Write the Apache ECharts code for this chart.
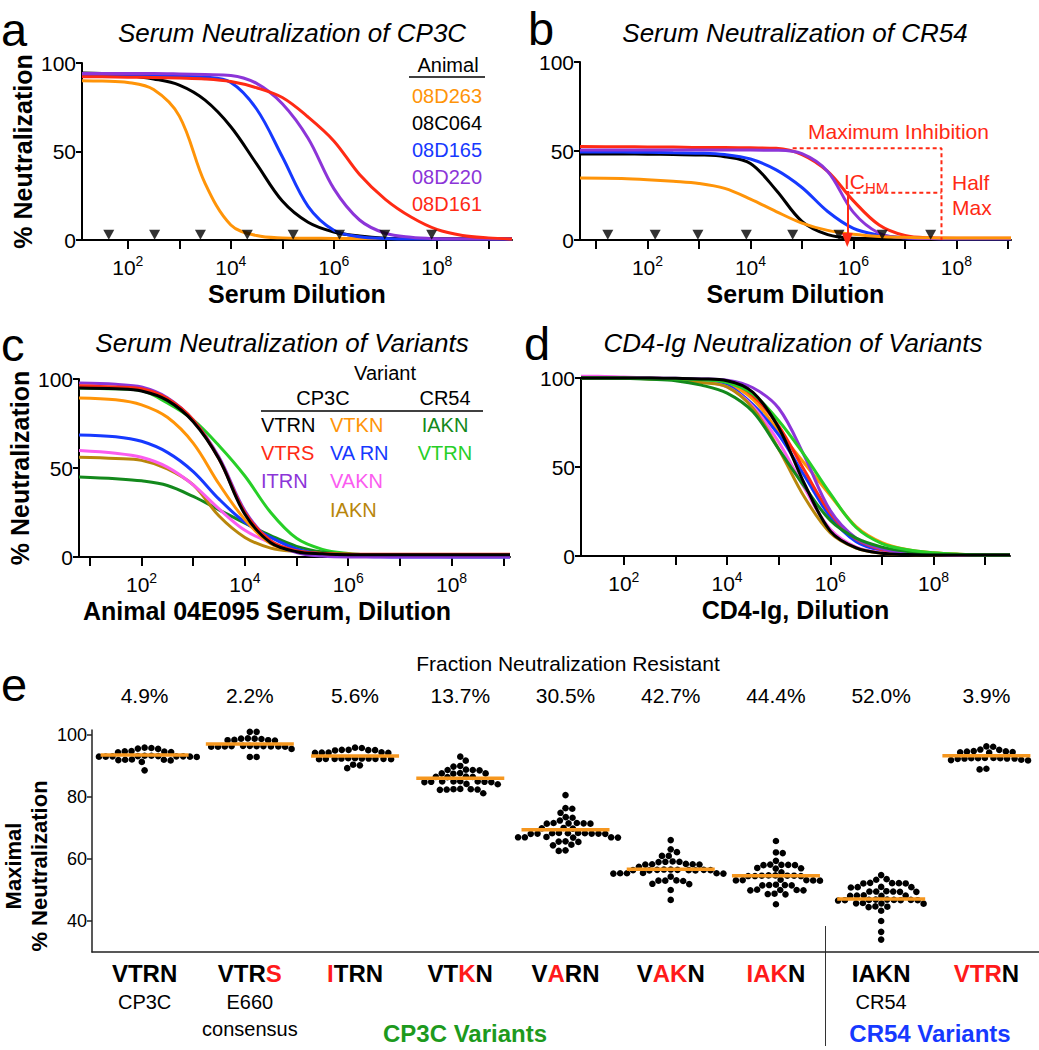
<!DOCTYPE html>
<html>
<head>
<meta charset="utf-8">
<script src="https://cdn.jsdelivr.net/npm/echarts@6/dist/echarts.min.js"></script>
<style>
  html, body { margin: 0; padding: 0; background: #fff; }
  #chart { width: 1039px; height: 1050px; }
</style>
</head>
<body>
<div id="chart"></div>
<script>
// ---- data (x values are log10 of the dilution) ----
const decadeTicks = [1, 2, 3, 4, 5, 6, 7, 8, 9];
const decadeLabels = [2, 4, 6, 8];

// panel a: Serum Neutralization of CP3C
const aAnimals = ['08D263', '08C064', '08D165', '08D220', '08D161'];
const aLogDil = [1.11, 1.5, 2, 2.5, 3, 3.5, 4, 4.5, 5, 5.5, 6, 6.5, 7, 7.5, 8, 8.5, 9, 9.46];
const a08D263 = [90, 89.8, 89, 85, 70, 32, 8.5, 2.5, 1.2, 1, 0.9, 0.8, 0.8, 0.8, 0.8, 0.8, 0.8, 0.8];
const a08C064 = [94.3, 94, 93, 91, 87.5, 79, 64, 43, 22, 10, 4.5, 2.2, 1, 0.7, 0.5, 0.5, 0.5, 0.5];
const a08D165 = [93.5, 93.5, 93.3, 93, 92.5, 92, 89, 74, 47, 19, 5.5, 1.8, 0.8, 0.5, 0.5, 0.5, 0.5, 0.5];
const a08D220 = [94, 94, 94, 94, 93.8, 93.5, 93, 88.5, 77, 57.5, 29, 11.3, 3.8, 1.5, 0.7, 0.5, 0.5, 0.5];
const a08D161 = [92.3, 92.2, 92, 91.8, 91.5, 91, 89.5, 86, 80.5, 69.5, 56, 37, 23, 13, 6, 2.6, 1.2, 0.5];
const aTriangles = [1.63, 2.52, 3.41, 4.32, 5.21, 6.11, 6.99, 7.9];

// panel b: Serum Neutralization of CR54
const bLogDil = [0.69, 1.5, 2, 2.5, 3, 3.5, 4, 4.5, 5, 5.5, 6, 6.5, 7, 7.5, 8, 8.5, 9.06];
const b08D263 = [34.8, 34.5, 33.9, 33, 31.8, 29, 23, 16, 9.5, 5.4, 3.2, 2, 1.5, 1.2, 1.1, 1.1, 1.1];
const b08C064 = [48.3, 48.3, 48.2, 48, 47.8, 46.8, 43, 28, 10.5, 3, 1, 0.8, 0.7, 0.7, 0.7, 0.7, 0.7];
const b08D165 = [49.5, 49.4, 49.3, 49, 48.8, 48, 45.5, 39.4, 29.5, 16, 6.5, 2.8, 1.2, 0.8, 0.7, 0.7, 0.7];
const b08D220 = [50.5, 50.5, 50.5, 50.5, 50.5, 50.5, 50.5, 50.4, 48.5, 38.5, 15.5, 3.8, 1.2, 0.8, 0.7, 0.7, 0.7];
const b08D161 = [52.5, 52.4, 52.3, 52.2, 52, 52, 51.8, 51.5, 48, 38.5, 22, 8.4, 2.5, 1.2, 1, 1, 1];
const bTriangles = [1.23, 2.15, 2.98, 3.92, 4.82, 5.72, 6.56, 7.5];
const bMaxInhib = 51.6, bHalfMax = 26.5, bICHM = 5.88, bMaxStart = 4.82, bHalfStart = 5.92, bBracketX = 7.71;

// panel c: Serum Neutralization of Variants (animal 04E095)
const cLogDil = [0.79, 1.5, 2, 2.5, 3, 3.5, 4, 4.5, 5, 5.5, 6, 6.5, 7, 7.5, 8, 8.5, 9.13];
const cCP3C_VTRN = [95, 94.5, 93.3, 88, 76, 55, 24, 8, 3, 1.8, 1.3, 1.3, 1.3, 1.3, 1.3, 1.3, 1.3];
const cCP3C_VTRS = [96.2, 95.5, 94.5, 89, 77, 55, 25, 9, 3.5, 2, 1.5, 1.5, 1.5, 1.5, 1.5, 1.5, 1.5];
const cCP3C_ITRN = [97.7, 97, 95.5, 89.5, 77, 56, 26, 9, 2.5, 0.5, 0, 0, 0, 0, 0, 0, 0];
const cCP3C_VTKN = [89.3, 88.3, 85.5, 78.5, 64, 41, 21, 7.5, 3, 1.8, 1.5, 1.3, 1.3, 1.3, 1.3, 1.3, 1.3];
const cCP3C_VARN = [68.6, 67.6, 65, 58.8, 48, 32.5, 19.5, 11, 4.5, 1.5, 0.5, 0.2, 0, 0, 0, 0, 0];
const cCP3C_VAKN = [59.8, 58.3, 56, 50.5, 40.5, 27, 15, 8, 3.6, 1.8, 1.2, 1, 1, 1, 1, 1, 1];
const cCP3C_IAKN = [56, 55.3, 54.3, 49.5, 40.5, 23, 11, 5, 3, 2, 1.5, 1.3, 1.3, 1.3, 1.3, 1.3, 1.3];
const cCR54_IAKN = [45, 44, 42.8, 40.2, 34, 26.5, 19, 12, 6, 2.8, 1.5, 1.2, 1, 1, 1, 1, 1];
const cCR54_VTRN = [95, 94.5, 93.5, 86.5, 77, 62.5, 45.5, 25, 10.5, 4.3, 2, 1, 0.5, 0.3, 0.2, 0.2, 0.2];

// panel d: CD4-Ig Neutralization of Variants
const dLogDil = [1.17, 1.5, 2, 2.5, 3, 3.5, 4, 4.5, 5, 5.5, 6, 6.5, 7, 7.5, 8, 8.5, 9, 9.48];
const dCP3C_VTRN = [100, 100, 100, 100, 99.8, 99.5, 98.5, 92, 72, 40.5, 14, 4.5, 1.5, 0.8, 0.5, 0.5, 0.5, 0.5];
const dCP3C_VTRS = [100, 100, 100, 99.8, 99.5, 99, 98, 90, 73, 48, 24, 9.5, 3.5, 1.5, 1, 0.6, 0.5, 0.5];
const dCP3C_ITRN = [100, 100, 100, 100, 99.8, 99.5, 98.8, 94.5, 83, 56, 25.5, 10, 4, 1.5, 0.8, 0.5, 0.5, 0.5];
const dCP3C_VTKN = [100, 100, 100, 99.8, 99.5, 98.8, 97, 88, 70, 52, 34, 16.5, 7.5, 3.5, 1.8, 1, 0.6, 0.5];
const dCP3C_VARN = [100, 100, 100, 99.8, 99.3, 98.5, 96, 85, 68, 45, 22, 8, 3, 1.5, 1, 0.6, 0.5, 0.5];
const dCP3C_VAKN = [101, 101, 100.5, 100, 99.5, 98, 95, 84, 64, 38, 15, 5, 1.8, 1, 0.8, 0.6, 0.5, 0.5];
const dCP3C_IAKN = [100, 100, 100, 99.5, 99, 97.5, 95, 83, 60, 33, 13, 4.5, 1.5, 0.8, 0.6, 0.5, 0.5, 0.5];
const dCR54_IAKN = [100, 100, 99.8, 99.3, 98.5, 96, 91.5, 81, 60, 39, 20, 10, 5, 2.5, 1.2, 0.8, 0.5, 0.5];
const dCR54_VTRN = [100, 100, 100, 99.8, 99.5, 99, 97.5, 91, 76, 56.5, 35, 16, 7, 3.5, 1.8, 1, 0.6, 0.5];

// panel e: maximal neutralization per variant
const eVariants = ['VTRN', 'VTRS', 'ITRN', 'VTKN', 'VARN', 'VAKN', 'IAKN', 'IAKN', 'VTRN'];
const eRedLetters = [[], [3], [0], [2], [1], [1, 2], [0, 1, 2], [], [0, 1, 2]];
const eSubLabels = ['CP3C', 'E660\nconsensus', '', '', '', '', '', 'CR54', ''];
const eResistant = ['4.9%', '2.2%', '5.6%', '13.7%', '30.5%', '42.7%', '44.4%', '52.0%', '3.9%'];
const eMedians = [93.5, 97.1, 93.2, 86.0, 69.4, 56.7, 54.6, 47.1, 93.3];
const eYTicks = [40, 60, 80, 100];
const eVTRN = [95.9, 95.8, 95.6, 95.5, 94.8, 94.7, 94.6, 94.5, 94.4, 93.3, 93.3, 93.2, 93.2, 93.1, 93.1, 93.1, 93.0, 93.0, 93.0, 92.9, 92.1, 92.0, 92.0, 91.9, 91.8, 91.3, 88.6];
const eVTRS = [101, 101, 98.9, 98.8, 98.8, 98.7, 98.4, 98.3, 98.3, 98.2, 96.5, 96.5, 96.4, 96.4, 96.4, 96.3, 96.3, 96.3, 96.2, 96.2, 96.2, 95.5, 92.9, 92.9];
const eITRN = [95.9, 95.8, 95.2, 95.2, 95.1, 95.1, 95.0, 94.4, 94.3, 94.3, 94.2, 94.2, 92.5, 92.5, 92.4, 92.4, 92.4, 92.3, 92.3, 92.3, 92.3, 92.2, 92.2, 90.4, 90.2, 89.3];
const eVTKN = [93.0, 91.7, 90.0, 89.8, 88.8, 88.7, 88.7, 88.6, 87.7, 87.6, 87.6, 87.5, 86.6, 86.5, 86.5, 86.4, 85.1, 85.0, 85.0, 85.0, 84.9, 84.9, 84.8, 84.8, 84.2, 84.1, 82.6, 82.5, 82.5, 82.4, 82.4, 82.3, 81.2];
const eVARN = [80.6, 76.4, 76.2, 74.9, 73.5, 73.3, 72.4, 71.6, 71.6, 71.5, 71.5, 71.4, 71.4, 70.0, 69.9, 69.8, 68.4, 68.4, 68.3, 68.3, 68.3, 68.2, 68.2, 68.2, 68.1, 68.1, 67.1, 67.0, 67.0, 67.0, 66.9, 66.9, 65.7, 65.6, 65.5, 64.6, 64.4, 62.8, 62.6];
const eVAKN = [66.1, 63.1, 62.2, 61.0, 61.0, 59.2, 59.1, 59.1, 59.0, 58.4, 58.3, 58.3, 58.2, 58.2, 57.5, 56.6, 56.6, 56.5, 56.5, 56.5, 56.4, 56.4, 56.4, 56.3, 56.3, 55.5, 55.4, 55.4, 55.4, 55.3, 55.3, 54.3, 53.1, 53.0, 53.0, 52.9, 52.0, 51.9, 50.0, 46.8];
const eIAKN = [65.8, 62.1, 61.9, 59.4, 58.2, 58.1, 58.1, 58.0, 58.0, 57.1, 57.0, 56.9, 55.7, 54.7, 54.7, 54.6, 54.6, 54.6, 54.5, 54.5, 54.5, 53.3, 53.2, 53.2, 53.1, 53.1, 53.0, 51.7, 51.6, 51.6, 51.5, 51.5, 50.1, 50.0, 50.0, 49.9, 49.9, 48.8, 48.7, 48.6, 45.4];
const eCR54_IAKN = [54.8, 53.5, 53.3, 52.3, 52.2, 52.2, 52.1, 52.1, 51.0, 50.9, 50.9, 50.8, 49.6, 49.5, 49.5, 49.5, 49.4, 49.4, 48.3, 48.2, 48.2, 48.1, 48.1, 46.9, 46.9, 46.8, 46.8, 46.8, 46.7, 46.7, 46.7, 46.6, 45.8, 45.7, 45.7, 45.6, 44.7, 44.6, 44.5, 43.3, 40.0, 36.5, 34.0];
const eCR54_VTRN = [96.3, 96.2, 95.3, 95.2, 94.8, 94.7, 94.6, 94.5, 94.4, 94.3, 92.6, 92.6, 92.5, 92.5, 92.5, 92.4, 92.4, 92.4, 92.3, 92.0, 91.9, 91.8, 89.1, 88.9];
const eColumns = [eVTRN, eVTRS, eITRN, eVTKN, eVARN, eVAKN, eIAKN, eCR54_IAKN, eCR54_VTRN];

// ---- styling ----
const FONT = '"Liberation Sans", Arial, Helvetica, sans-serif';
const C = {
  orange: '#ff9408', black: '#000000', blue: '#1639ff', purple: '#8c35d8', red: '#ff2a14',
  pink: '#fb5cf0', brown: '#b8860b', dkgreen: '#13891c', green: '#27cf27', median: '#f6971f'
};

const GA = { left: 82, top: 63, width: 430, height: 177 };
const GB = { left: 580, top: 62, width: 431, height: 178 };
const GC = { left: 79, top: 379, width: 431, height: 178 };
const GD = { left: 581, top: 378, width: 429, height: 178 };
const GE = { left: 92, top: 730, width: 947, height: 222 };
const E_YMIN = 30, E_YMAX = 101.6;

function pairs(xs, ys) { return xs.map((x, i) => [x, ys[i]]); }

function logAxis(gi, min, max, name, gap) {
  return {
    type: 'value', gridIndex: gi, min: min, max: max,
    axisLine: { show: true, onZero: false, lineStyle: { color: '#000', width: 2 } },
    axisTick: { show: true, length: 9, lineStyle: { color: '#000', width: 2 },
      customValues: decadeTicks.filter(t => t >= min && t <= max) },
    axisLabel: {
      customValues: decadeLabels, margin: 14,
      formatter: v => '{b|10}{s|' + v + '}',
      rich: {
        b: { fontSize: 21, fontFamily: FONT, color: '#000', lineHeight: 24, verticalAlign: 'bottom' },
        s: { fontSize: 14, fontFamily: FONT, color: '#000', lineHeight: 14, verticalAlign: 'top' }
      }
    },
    splitLine: { show: false },
    name: name, nameLocation: 'middle', nameGap: gap,
    nameTextStyle: { fontSize: 25, fontWeight: 'bold', fontFamily: FONT, color: '#000' }
  };
}

function pctAxis(gi, withName) {
  return {
    type: 'value', gridIndex: gi, min: 0, max: 100, interval: 50,
    axisLine: { show: true, onZero: false, lineStyle: { color: '#000', width: 2 } },
    axisTick: { show: true, length: 6, lineStyle: { color: '#000', width: 2 } },
    axisLabel: { fontSize: 21, fontFamily: FONT, color: '#000', margin: 6 },
    splitLine: { show: false },
    name: withName ? '% Neutralization' : '', nameLocation: 'middle', nameRotate: 90, nameGap: 47,
    nameTextStyle: { fontSize: 25, fontWeight: 'bold', fontFamily: FONT, color: '#000' }
  };
}

function curve(axis, xs, ys, color, name) {
  return {
    type: 'line', name: name, xAxisIndex: axis, yAxisIndex: axis,
    data: pairs(xs, ys), showSymbol: false, smooth: 0.35, clip: false,
    lineStyle: { color: color, width: 3 }, silent: true
  };
}

function triangles(axis, xs) {
  return {
    type: 'scatter', xAxisIndex: axis, yAxisIndex: axis, z: 5,
    data: xs.map(x => [x, 3]), symbol: 'triangle', symbolRotate: 180, symbolSize: [11, 10],
    itemStyle: { color: '#000' }, silent: true
  };
}

// simple beeswarm: horizontal offsets (px) so dots do not overlap
function swarm(vals, pxPerY, D) {
  const placed = [];
  let flip = 1;
  vals.slice().sort((a, b) => b - a).forEach(v => {
    const y = v * pxPerY;
    const cands = [0];
    placed.forEach(p => {
      const dy = Math.abs(p.y - y);
      if (dy < D) { const dx = Math.sqrt(D * D - dy * dy); cands.push(p.x + dx, p.x - dx); }
    });
    cands.sort((a, b) => (Math.abs(a) - Math.abs(b)) || (flip * (b - a)));
    const x = cands.find(c => placed.every(p => (p.x - c) * (p.x - c) + (p.y - y) * (p.y - y) >= D * D - 0.01));
    if (x !== 0) flip = -flip;
    placed.push({ x: x, y: y, v: v });
  });
  return placed;
}

const pxPerY = GE.height / (E_YMAX - E_YMIN);
const pxPerCat = GE.width / eVariants.length;
const dots = [];
eColumns.forEach((vals, i) => {
  swarm(vals, pxPerY, 6.8).forEach(p => dots.push([i + 0.5 + p.x / pxPerCat, p.v]));
});

function variantLabel(value, idx) {
  const red = eRedLetters[idx];
  let s = '';
  value.split('').forEach((ch, k) => { s += (red.indexOf(k) >= 0 ? '{r|' : '{b|') + ch + '}'; });
  const sub = eSubLabels[idx];
  if (sub) sub.split('\n').forEach(line => { s += '\n{s|' + line + '}'; });
  return s;
}

const txt = (text, x, y, opts) => Object.assign({
  type: 'text', x: x, y: y, silent: true,
  style: Object.assign({
    text: text, fill: '#000', font: '20px ' + FONT,
    textAlign: 'left', align: 'left', textVerticalAlign: 'middle', verticalAlign: 'middle'
  }, opts && opts.style)
}, opts && opts.el);

const center = { textAlign: 'center', align: 'center' };
const letter = { font: '47px ' + FONT, lineHeight: 46 };
const title = Object.assign({ font: 'italic 26px ' + FONT }, center);
const graphics = [
  // panel letters
  txt('a', 1, 29, { style: letter }),
  txt('b', 528, 28, { style: letter }),
  txt('c', 1, 344, { style: letter }),
  txt('d', 524, 343, { style: letter }),
  txt('e', 1, 684, { style: letter }),
  // titles
  txt('Serum Neutralization of CP3C', 292, 33, { style: title }),
  txt('Serum Neutralization of CR54', 795, 33, { style: title }),
  txt('Serum Neutralization of Variants', 282, 343, { style: title }),
  txt('CD4-Ig Neutralization of Variants', 793, 343, { style: title }),
  // legend a
  txt('Animal', 448, 65, { style: center }),
  { type: 'line', silent: true, shape: { x1: 409, y1: 77, x2: 485, y2: 77 }, style: { stroke: '#000', lineWidth: 1.5 } },
  // legend c
  txt('Variant', 385, 373, { style: center }),
  txt('CP3C', 323, 398, { style: center }),
  txt('CR54', 445, 398, { style: center }),
  { type: 'line', silent: true, shape: { x1: 261, y1: 411, x2: 483, y2: 411 }, style: { stroke: '#000', lineWidth: 1.5 } },
  txt('VTRN', 261, 425, { style: { fill: C.black } }),
  txt('VTRS', 261, 453, { style: { fill: C.red } }),
  txt('ITRN', 261, 481, { style: { fill: C.purple } }),
  txt('VTKN', 330, 425, { style: { fill: C.orange } }),
  txt('VA RN', 330, 453, { style: { fill: C.blue } }),
  txt('VAKN', 330, 481, { style: { fill: C.pink } }),
  txt('IAKN', 330, 510, { style: { fill: C.brown } }),
  txt('IAKN', 445, 425, { style: Object.assign({ fill: C.dkgreen }, center) }),
  txt('VTRN', 445, 453, { style: Object.assign({ fill: C.green }, center) }),
  // panel b annotation text
  txt('Maximum Inhibition', 808, 131, { style: { fill: C.red, font: '21px ' + FONT } }),
  txt('Half', 952, 182, { style: { fill: C.red, font: '21px ' + FONT } }),
  txt('Max', 952, 207, { style: { fill: C.red, font: '21px ' + FONT } }),
  txt('{a|IC}{s|HM}', 844, 183, { style: { rich: {
    a: { fill: C.red, fontSize: 21, fontFamily: FONT, lineHeight: 24, verticalAlign: 'top' },
    s: { fill: C.red, fontSize: 15, fontFamily: FONT, lineHeight: 15, verticalAlign: 'bottom' } } } }),
  // panel c x name
  txt('Animal 04E095 Serum, Dilution', 267, 611, { style: Object.assign({ font: 'bold 25px ' + FONT }, center) }),
  // panel e
  txt('Fraction Neutralization Resistant', 568, 663, { style: Object.assign({ font: '21px ' + FONT }, center) }),
  txt('Maximal\n% Neutralization', 26, 866, { el: { rotation: Math.PI / 2 },
    style: Object.assign({ font: 'bold 22px ' + FONT, lineHeight: 26 }, center) }),
  txt('CP3C Variants', 465, 1033, { style: Object.assign({ font: 'bold 24px ' + FONT, fill: '#1d9a1d' }, center) }),
  txt('CR54 Variants', 930, 1033, { style: Object.assign({ font: 'bold 24px ' + FONT, fill: C.blue }, center) }),
  { type: 'line', silent: true, shape: { x1: 825.5, y1: 926, x2: 825.5, y2: 1046 }, style: { stroke: '#333', lineWidth: 1 } }
];
// legend a entries
aAnimals.forEach((n, i) => {
  graphics.push(txt(n, 412, 96 + i * 27, { style: { fill: [C.orange, C.black, C.blue, C.purple, C.red][i] } }));
});

const option = {
  animation: false,
  backgroundColor: '#fff',
  textStyle: { fontFamily: FONT },
  grid: [GA, GB, GC, GD, GE].map(g => Object.assign({ containLabel: false, outerBoundsMode: 'none' }, g)),
  xAxis: [
    logAxis(0, aLogDil[0], aLogDil[aLogDil.length - 1], 'Serum Dilution', 41),
    logAxis(1, bLogDil[0], bLogDil[bLogDil.length - 1], 'Serum Dilution', 41),
    logAxis(2, cLogDil[0], cLogDil[cLogDil.length - 1], '', 41),
    logAxis(3, dLogDil[0], dLogDil[dLogDil.length - 1], 'CD4-Ig, Dilution', 41),
    {
      type: 'category', gridIndex: 4, data: eVariants, position: 'bottom',
      axisLine: { show: true, onZero: false, lineStyle: { color: '#222', width: 1.5 } },
      axisTick: { show: false },
      axisLabel: {
        interval: 0, margin: 6, formatter: variantLabel,
        rich: {
          b: { fontSize: 24, fontWeight: 'bold', fontFamily: FONT, color: '#000', lineHeight: 30 },
          r: { fontSize: 24, fontWeight: 'bold', fontFamily: FONT, color: '#ff1a1a', lineHeight: 30 },
          s: { fontSize: 20, fontFamily: FONT, color: '#000', lineHeight: 27 }
        }
      }
    },
    {
      type: 'category', gridIndex: 4, data: eResistant, position: 'top',
      axisLine: { show: false }, axisTick: { show: false },
      axisLabel: { interval: 0, margin: 24, fontSize: 21, fontFamily: FONT, color: '#000' }
    },
    { type: 'value', gridIndex: 4, min: 0, max: eVariants.length, show: false }
  ],
  yAxis: [
    pctAxis(0, true), pctAxis(1, false), pctAxis(2, true), pctAxis(3, false),
    {
      type: 'value', gridIndex: 4, min: E_YMIN, max: E_YMAX,
      axisLine: { show: true, onZero: false, lineStyle: { color: '#222', width: 1.5 } },
      axisTick: { show: true, length: 5, customValues: eYTicks, lineStyle: { color: '#222', width: 1.5 } },
      axisLabel: { customValues: eYTicks, fontSize: 18, fontFamily: FONT, color: '#000', margin: 5 },
      splitLine: { show: false }
    }
  ],
  series: [
    // a
    curve(0, aLogDil, a08D263, C.orange, '08D263'),
    curve(0, aLogDil, a08C064, C.black, '08C064'),
    curve(0, aLogDil, a08D165, C.blue, '08D165'),
    curve(0, aLogDil, a08D220, C.purple, '08D220'),
    curve(0, aLogDil, a08D161, C.red, '08D161'),
    triangles(0, aTriangles),
    // b
    curve(1, bLogDil, b08C064, C.black, '08C064'),
    curve(1, bLogDil, b08D165, C.blue, '08D165'),
    curve(1, bLogDil, b08D161, C.red, '08D161'),
    curve(1, bLogDil, b08D220, C.purple, '08D220'),
    curve(1, bLogDil, b08D263, C.orange, '08D263'),
    triangles(1, bTriangles),
    {
      type: 'line', xAxisIndex: 1, yAxisIndex: 1, z: 6, showSymbol: false, silent: true,
      data: [[bMaxStart, bMaxInhib], [bBracketX, bMaxInhib], [bBracketX, 0]],
      lineStyle: { color: C.red, width: 2, type: [4, 3] }
    },
    {
      type: 'line', xAxisIndex: 1, yAxisIndex: 1, z: 6, showSymbol: false, silent: true,
      data: [[bHalfStart, bHalfMax], [bBracketX, bHalfMax]],
      lineStyle: { color: C.red, width: 2, type: [4, 3] },
      markLine: {
        silent: true, symbol: ['none', 'triangle'], symbolSize: [11, 14], label: { show: false },
        lineStyle: { color: C.red, width: 2, type: 'solid' },
        data: [[{ coord: [bICHM, bHalfMax + 1] }, { coord: [bICHM, 0] }]]
      }
    },
    // c
    curve(2, cLogDil, cCR54_VTRN, C.green, 'CR54 VTRN'),
    curve(2, cLogDil, cCR54_IAKN, C.dkgreen, 'CR54 IAKN'),
    curve(2, cLogDil, cCP3C_IAKN, C.brown, 'IAKN'),
    curve(2, cLogDil, cCP3C_VAKN, C.pink, 'VAKN'),
    curve(2, cLogDil, cCP3C_VARN, C.blue, 'VARN'),
    curve(2, cLogDil, cCP3C_VTKN, C.orange, 'VTKN'),
    curve(2, cLogDil, cCP3C_ITRN, C.purple, 'ITRN'),
    curve(2, cLogDil, cCP3C_VTRS, C.red, 'VTRS'),
    curve(2, cLogDil, cCP3C_VTRN, C.black, 'VTRN'),
    // d
    curve(3, dLogDil, dCP3C_VTKN, C.orange, 'VTKN'),
    curve(3, dLogDil, dCP3C_VARN, C.blue, 'VARN'),
    curve(3, dLogDil, dCP3C_VTRS, C.red, 'VTRS'),
    curve(3, dLogDil, dCP3C_VAKN, C.pink, 'VAKN'),
    curve(3, dLogDil, dCP3C_IAKN, C.brown, 'IAKN'),
    curve(3, dLogDil, dCP3C_ITRN, C.purple, 'ITRN'),
    curve(3, dLogDil, dCR54_IAKN, C.dkgreen, 'CR54 IAKN'),
    curve(3, dLogDil, dCR54_VTRN, C.green, 'CR54 VTRN'),
    curve(3, dLogDil, dCP3C_VTRN, C.black, 'VTRN'),
    // e
    {
      type: 'scatter', xAxisIndex: 6, yAxisIndex: 4, data: dots, symbolSize: 6.6,
      itemStyle: { color: '#000', opacity: 1 }, silent: true
    },
    {
      type: 'scatter', xAxisIndex: 6, yAxisIndex: 4, z: 4, silent: true,
      data: eMedians.map((m, i) => [i + 0.5, m]),
      symbol: 'rect', symbolSize: [88, 3.5], itemStyle: { color: C.median, opacity: 1 }
    }
  ],
  graphic: graphics
};

const chart = echarts.init(document.getElementById('chart'), null, { renderer: 'svg', width: 1039, height: 1050 });
chart.setOption(option);
</script>
</body>
</html>
